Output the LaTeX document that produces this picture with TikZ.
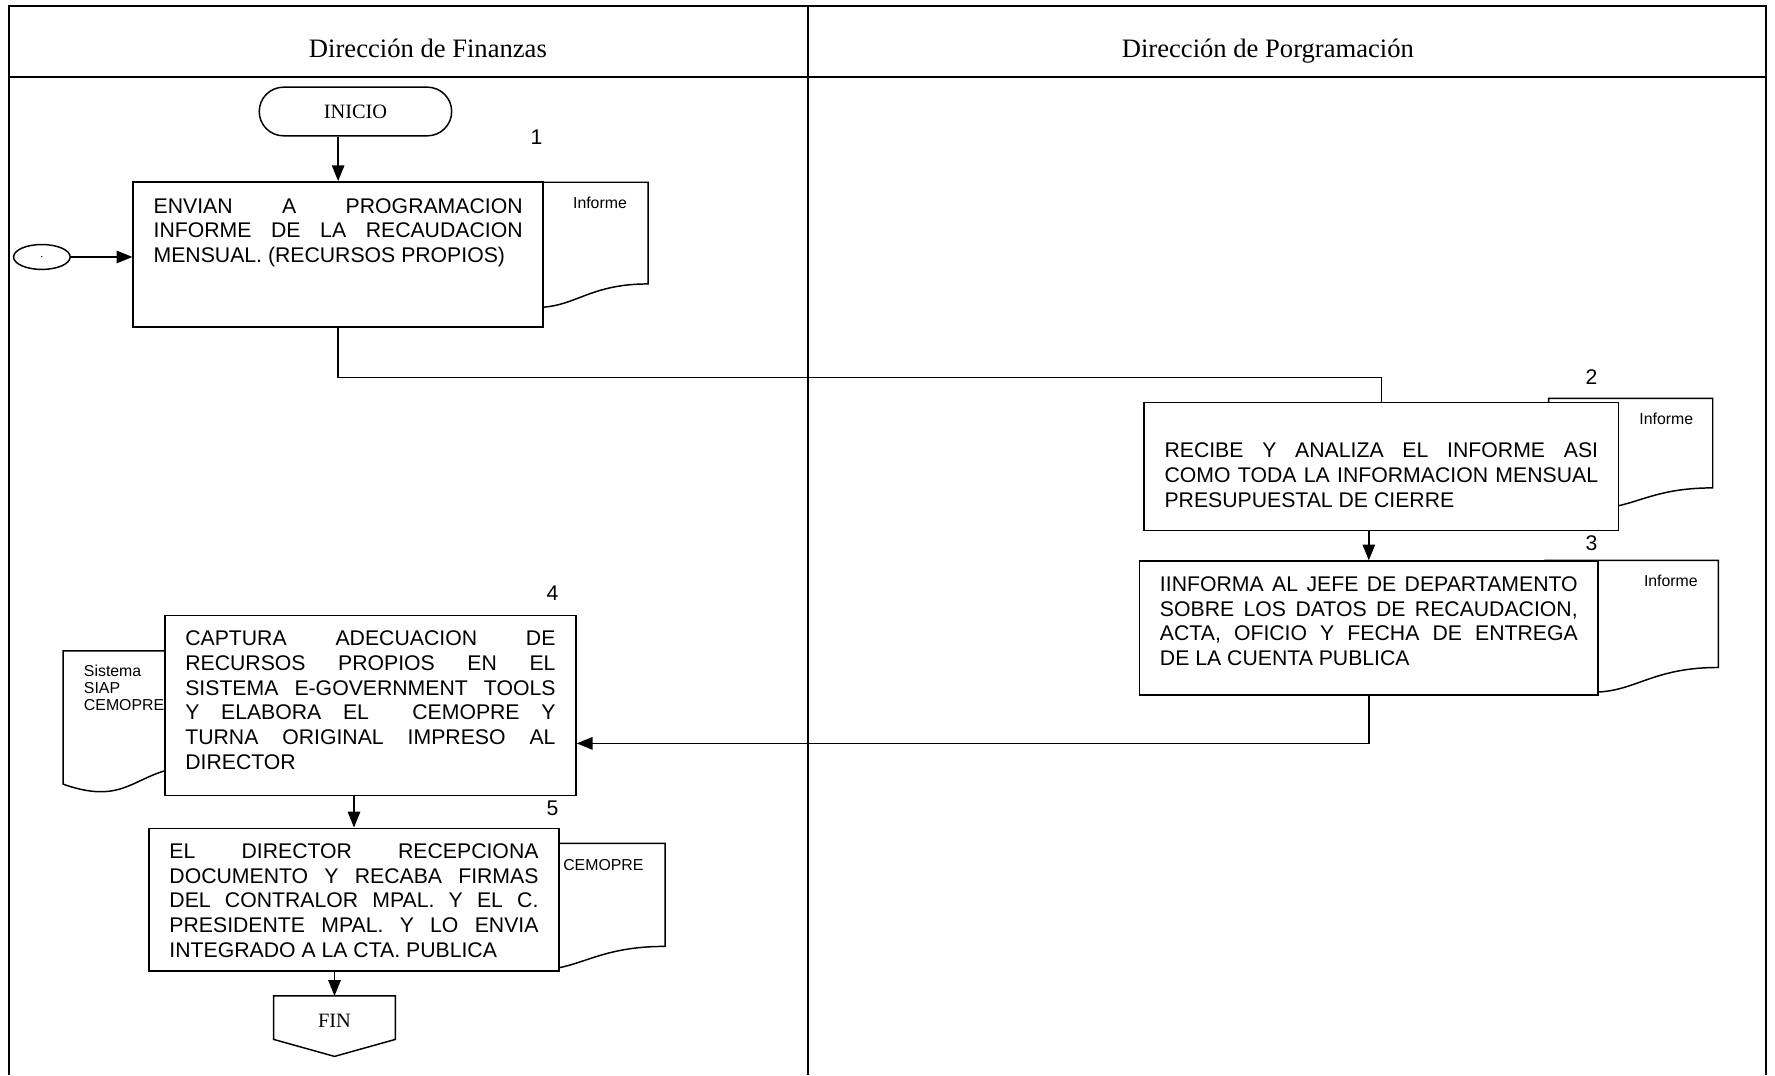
\documentclass[tikz,border=0pt]{standalone}
\usepackage{fontspec}
\setmainfont{Liberation Serif}
\newfontfamily\arial{Liberation Sans}
\usetikzlibrary{arrows.meta,shapes.geometric,calc}
\def\body{\arial\fontsize{18.75}{21.8}\selectfont\tolerance=10000 }
\def\docfont{\arial\fontsize{14}{15}\selectfont}
\def\lanefont{\fontsize{23.5}{28}\selectfont}
\def\termfont{\fontsize{18}{22}\selectfont}
% document shape: x, y (top left), width, height
\def\ddoc#1#2#3#4{\draw[doc] (#1,#2) -- ({#1+#3},#2) -- ({#1+#3},{#2+0.802*#4})
  .. controls ({#1+0.5*#3},{#2+0.802*#4}) and ({#1+0.5*#3},{#2+1.1075*#4}) .. (#1,{#2+0.934*#4}) -- cycle;}
\tikzset{
  line/.style={line width=1.3pt},
  arr/.style={line, -{Triangle[length=14pt,width=11pt]}},
  frame/.style={line width=1.5pt},
  doc/.style={line width=1.3pt, fill=white},
  proc/.style={draw, line width=1.4pt, fill=white, anchor=north west, inner xsep=18pt, inner ysep=0pt, font=\body},
  term/.style={draw, line width=1.3pt, rounded corners=21.5pt, minimum width=170pt, minimum height=43pt, font=\termfont},
  num/.style={font=\body, inner sep=0pt},
  docl/.style={font=\docfont, inner sep=0pt}
}

\begin{document}
\begin{tikzpicture}[x=1pt,y=-1pt]
    \useasboundingbox (0,0) rectangle (1568,950);

    % lanes
    \draw[frame] (8,950) -- (8,5) -- (1560,5) -- (1560,950);
    \draw[frame] (8,68) -- (1560,68);
    \draw[frame] (714,5) -- (714,950);
    \node[font=\lanefont, anchor=base] (hfin) at (378,50.5) {Dirección de Finanzas};
    \node[font=\lanefont, anchor=base] (hprog) at (1120,50.5) {Dirección de Porgramación};

    % documents
    \ddoc{437.5}{161}{135}{112}
    \ddoc{1368}{352}{145}{98.5}
    \ddoc{1365}{495}{153}{118}
    \ddoc{55.7}{575}{124}{126}
    \ddoc{430}{745}{157.5}{113.5}
    \node[docl] (d1) at (530,179) {Informe};
    \node[docl] (d2) at (1472,370) {Informe};
    \node[docl] (d3) at (1476,513) {Informe};
    \node[docl, align=left, anchor=north west] (d4) at (74,587.5) {Sistema\\SIAP\\CEMOPRE};
    \node[docl] (d5) at (533,764) {CEMOPRE};

    % steps
    \node[term] (ini) at (314,98.5) {INICIO};
    \node[draw, ellipse, line, minimum width=50pt, minimum height=22pt, inner sep=0pt] (con) at (37,227) {.};

    \node[proc] (b1) at (117,160) {\parbox[c][128pt][t]{326pt}{\rule{0pt}{27.7pt}ENVIAN A PROGRAMACION\linebreak
      INFORME DE LA RECAUDACION\linebreak MENSUAL. (RECURSOS PROPIOS)}};
    \node[proc] (b2) at (1010,355) {\parbox[c][113pt][t]{383pt}{\rule{0pt}{48.7pt}RECIBE Y ANALIZA EL INFORME ASI\linebreak
      COMO TODA LA INFORMACION MENSUAL\linebreak PRESUPUESTAL DE CIERRE}};
    \node[proc] (b3) at (1006,495) {\parbox[c][118pt][t]{369pt}{\rule{0pt}{26.7pt}IINFORMA AL JEFE DE DEPARTAMENTO\linebreak
      SOBRE LOS DATOS DE RECAUDACION,\linebreak ACTA, OFICIO Y FECHA DE ENTREGA\linebreak DE LA CUENTA PUBLICA}};
    \node[proc] (b4) at (145,543) {\parbox[c][159pt][t]{327pt}{\rule{0pt}{26.7pt}CAPTURA ADECUACION DE\linebreak
      RECURSOS PROPIOS EN EL\linebreak SISTEMA E-GOVERNMENT TOOLS\linebreak Y ELABORA EL \ CEMOPRE Y\linebreak
      TURNA ORIGINAL IMPRESO AL\linebreak DIRECTOR}};
    \node[proc] (b5) at (131,731) {\parbox[c][126pt][t]{326pt}{\rule{0pt}{26.7pt}EL DIRECTOR RECEPCIONA\linebreak
      DOCUMENTO Y RECABA FIRMAS\linebreak DEL CONTRALOR MPAL. Y EL C.\linebreak PRESIDENTE MPAL. Y LO ENVIA\linebreak
      INTEGRADO A LA CTA. PUBLICA}};

    \node[font=\termfont, minimum width=107pt, minimum height=38pt, inner sep=0pt, text height=18pt, text depth=0pt] (fin) at (295.5,899) {FIN};
    \draw[line] (fin.north west) -- (fin.north east) -- (fin.south east) -- ([yshift=-15pt]fin.south) -- (fin.south west) -- cycle;

    \node[num] (n1) at (474,121) {1};
    \node[num] (n2) at (1406,333) {2};
    \node[num] (n3) at (1406,480) {3};
    \node[num] (n4) at (488,524) {4};
    \node[num] (n5) at (488,714) {5};

    % connectors
    \draw[arr] (b1.north |- ini.south) -- (b1.north);
    \draw[arr] (con.east) -- (con.east -| b1.west);
    \draw[line] (b1.south) -- ++(0,44) -| (b2.north);
    \draw[arr] (b3.north |- b2.south) -- (b3.north);
    \draw[arr] (b3.south) |- ($(b4.east)+(0,33.5)$);
    \draw[arr] (b5.north |- b4.south) -- (b5.north);
    \draw[arr] (b5.south -| fin.north) -- (fin.north);
\end{tikzpicture}
\end{document}
